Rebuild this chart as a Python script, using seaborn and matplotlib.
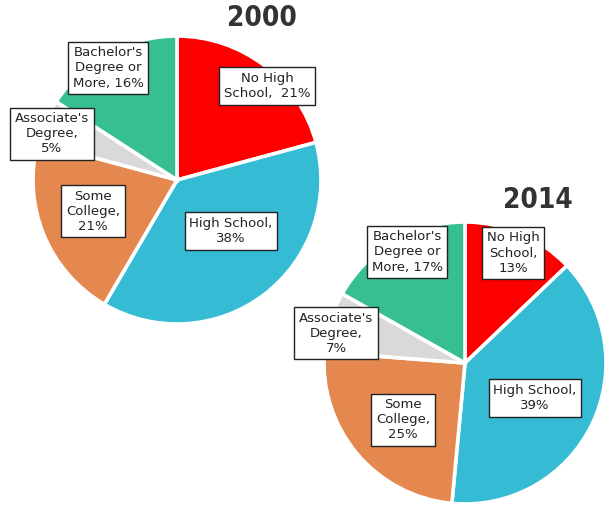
import matplotlib
matplotlib.use("Agg")
import matplotlib.pyplot as plt
import seaborn as sns

# Educational attainment shares (percent), clockwise from 12 o'clock
categories = ["No High School", "High School", "Some College",
              "Associate's Degree", "Bachelor's Degree or More"]
values_2000 = [21, 38, 21, 5, 16]
values_2014 = [13, 39, 25, 7, 17]
years = ["2000", "2014"]

# Label text as it appears in each box
label_fmt_2000 = ["No High\nSchool,  {}%", "High School,\n{}%", "Some\nCollege,\n{}%",
                  "Associate's\nDegree,\n{}%", "Bachelor's\nDegree or\nMore, {}%"]
label_fmt_2014 = ["No High\nSchool,\n{}%", "High School,\n{}%", "Some\nCollege,\n{}%",
                  "Associate's\nDegree,\n{}%", "Bachelor's\nDegree or\nMore, {}%"]

sns.set_theme(style="white")
palette = sns.color_palette(["#FE0000", "#35BCD4", "#E4884F", "#D9D9D9", "#38BF91"])

W, H = 605, 508
fig = plt.figure(figsize=(W / 100, H / 100), dpi=100)
ax = fig.add_axes([0, 0, 1, 1])

# layout in pixel units (y measured from top)
pies = [
    dict(values=values_2000, fmts=label_fmt_2000, center=(177, 180), radius=144,
         title_xy=(262, 18),
         boxes=[(267, 86), (231, 231), (93, 211), (52, 134), (108, 68)]),
    dict(values=values_2014, fmts=label_fmt_2014, center=(465, 363), radius=141,
         title_xy=(538, 200),
         boxes=[(513, 253), (535, 398), (403, 420), (336, 333), (407, 252)]),
]

for year, p in zip(years, pies):
    cx, cy = p["center"]
    ax.pie(p["values"], colors=palette, startangle=90, counterclock=False,
           center=(cx, H - cy), radius=p["radius"], frame=True,
           wedgeprops=dict(edgecolor="white", linewidth=2.6))
    tx, ty = p["title_xy"]
    ax.text(tx, H - ty, year, ha="center", va="center", fontsize=20,
            fontweight="heavy", color="#333333", family="DejaVu Sans",
            fontstretch="condensed")
    for fmt, v, (bx, by) in zip(p["fmts"], p["values"], p["boxes"]):
        ax.text(bx, H - by, fmt.format(v), ha="center", va="center",
                fontsize=9.5, color="#222222", linespacing=1.2,
                family="DejaVu Sans",
                bbox=dict(boxstyle="square,pad=0.35", facecolor="white",
                          edgecolor="#222222", linewidth=1.0))

ax.set_xlim(0, W)
ax.set_ylim(0, H)
ax.set_aspect("equal")
ax.axis("off")

fig.savefig("out.png", dpi=100, facecolor="white")
